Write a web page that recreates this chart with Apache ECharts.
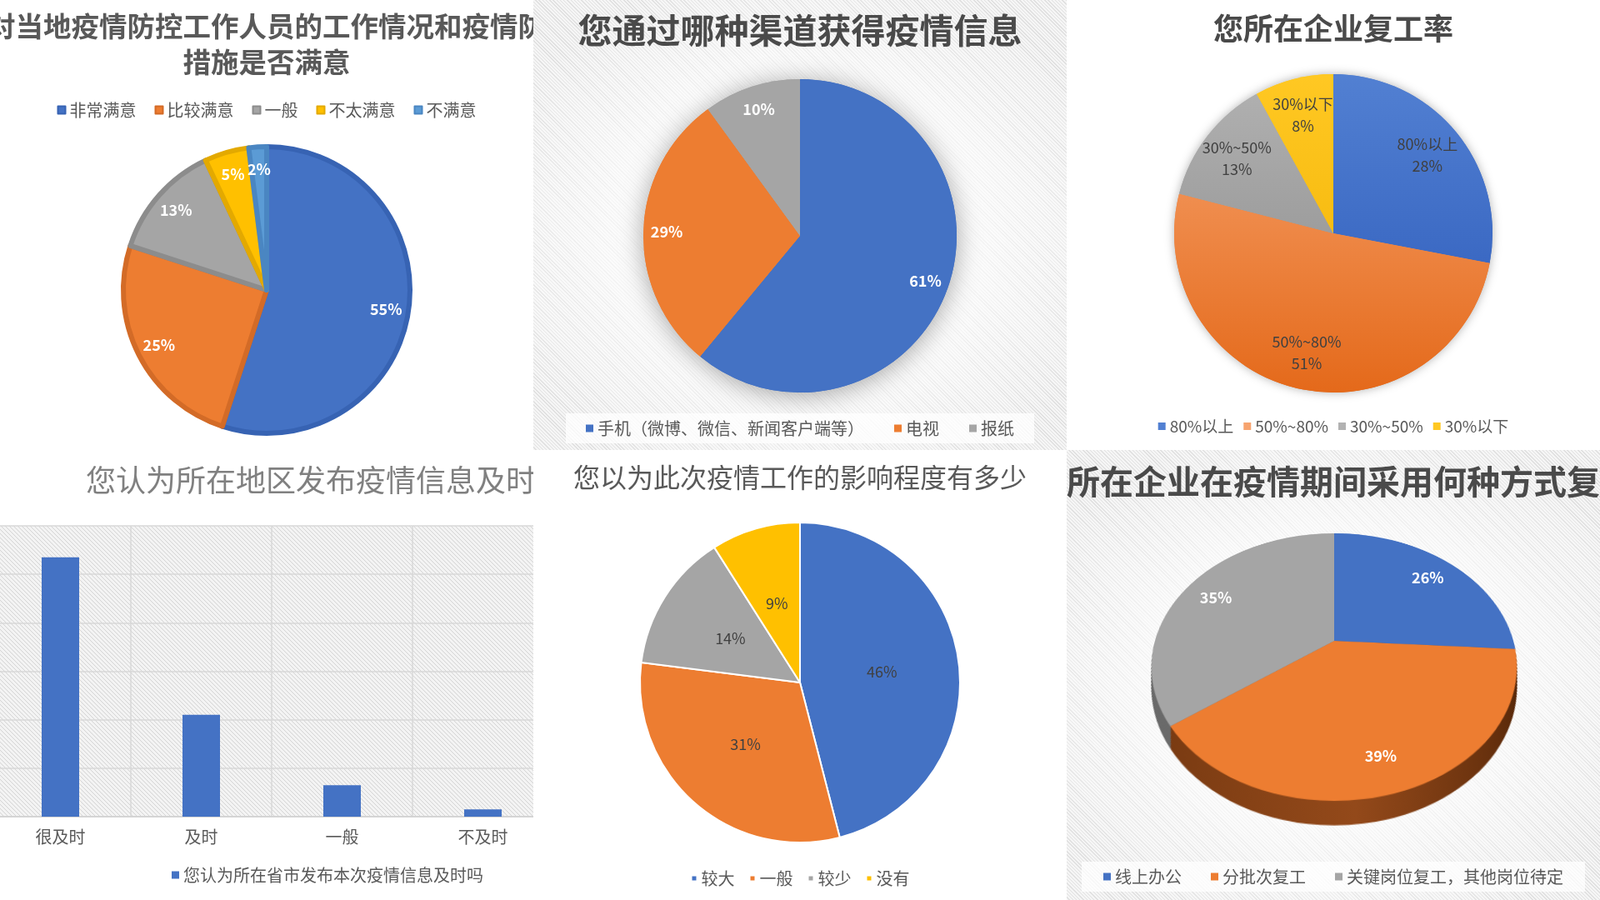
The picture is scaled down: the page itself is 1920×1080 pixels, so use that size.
<!DOCTYPE html>
<html>
<head>
<meta charset="utf-8">
<title>疫情调查统计</title>
<script src="https://cdn.jsdelivr.net/npm/echarts@6/dist/echarts.min.js"></script>
<style>
html,body{margin:0;padding:0;width:1920px;height:1080px;overflow:hidden;background:#fff;}
.panel{position:absolute;width:640px;height:540px;overflow:hidden;background:#fff;}
.chart{position:absolute;left:0;top:0;width:640px;height:540px;}
.hatch{background:
  radial-gradient(ellipse 62% 60% at 50% 52%, rgba(255,255,255,1) 0%, rgba(255,255,255,0.8) 45%, rgba(255,255,255,0) 100%),
  repeating-linear-gradient(45deg, #f5f5f5 0px, #f5f5f5 2px, #e0e0e0 2px, #e0e0e0 3px);}
#c6b{transform-origin:321px 229px;transform:perspective(763px) rotateX(44.1deg);}
#c6a{z-index:2;}
</style>
</head>
<body>
<div class="panel" style="left:0;top:0;"><div id="c1" class="chart"></div></div>
<div class="panel hatch" style="left:640px;top:0;"><div id="c2" class="chart"></div></div>
<div class="panel" style="left:1280px;top:0;"><div id="c3" class="chart"></div></div>
<div class="panel" style="left:0;top:540px;"><div id="c4" class="chart"></div></div>
<div class="panel" style="left:640px;top:540px;"><div id="c5" class="chart"></div></div>
<div class="panel hatch" style="left:1280px;top:540px;"><div id="c6b" class="chart"></div><div id="c6a" class="chart"></div></div>
<script>
// 数据
var satisfyNames = ['非常满意', '比较满意', '一般', '不太满意', '不满意'];
var satisfyValues = [55, 25, 13, 5, 2];

var channelNames = ['手机（微博、微信、新闻客户端等）', '电视', '报纸'];
var channelValues = [61, 29, 10];

var rateNames = ['80%以上', '50%~80%', '30%~50%', '30%以下'];
var rateValues = [28, 51, 13, 8];

var timelyNames = ['很及时', '及时', '一般', '不及时'];
var timelyValues = [107, 42, 13, 3];
var timelySeriesName = '您认为所在省市发布本次疫情信息及时吗';

var impactNames = ['较大', '一般', '较少', '没有'];
var impactValues = [46, 31, 14, 9];

var wayNames = ['线上办公', '分批次复工', '关键岗位复工，其他岗位待定'];
var wayValues = [26, 39, 35];

(function(){
	var FONT = '"Noto Sans CJK SC", "Noto Sans", sans-serif';
	var BLUE = '#4472C4', ORANGE = '#ED7D31', GRAY = '#A5A5A5', YELLOW = '#FFC000', LBLUE = '#5B9BD5';

	function pieData(names, values, styles){
		return names.map(function(n, i){
			var d = {name: n, value: values[i]};
			if(styles) d.itemStyle = styles[i];
			return d;
		});
	}
	function legendText(size){
		return {fontSize: size || 20, color: '#595959', fontFamily: FONT};
	}
	function titleStyle(size, weight, color){
		return {fontSize: size, fontWeight: weight, color: color, lineHeight: size + 4, fontFamily: FONT};
	}

	// 1. 满意度
	var c1 = echarts.init(document.getElementById('c1'));
	var c1Colors = [BLUE, ORANGE, GRAY, YELLOW, LBLUE];
	var c1Border = ['#3763b3', '#d36b27', '#8c8c8c', '#e3a900', '#4a86c2'];
	c1.setOption({
		animation: false,
		textStyle: {fontFamily: FONT},
		title: {
			text: '您对当地疫情防控工作人员的工作情况和疫情防控\n措施是否满意',
			left: 'center', top: 10, padding: 0,
			textStyle: {fontSize: 33.5, fontWeight: 'bold', color: '#595959', lineHeight: 43, fontFamily: FONT}
		},
		legend: {
			data: satisfyNames, top: 117, left: 'center', icon: 'rect',
			itemWidth: 9, itemHeight: 9, itemGap: 22, textStyle: legendText()
		},
		series: [{
			type: 'pie', center: [320, 348], radius: 172, startAngle: 90, silent: true,
			label: {show: false}, labelLine: {show: false},
			data: pieData(satisfyNames, satisfyValues, c1Colors.map(function(c, i){
				return {color: c, borderColor: c1Border[i], borderWidth: 6};
			}))
		}, {
			type: 'pie', center: [320, 348], radius: [112, 172], startAngle: 90, silent: true,
			avoidLabelOverlap: false,
			itemStyle: {color: 'rgba(0,0,0,0)', borderWidth: 0},
			label: {show: true, position: 'inside', formatter: '{c}%', color: '#fff', fontSize: 18, fontWeight: 'bold'},
			labelLine: {show: false},
			data: pieData(satisfyNames, satisfyValues)
		}]
	});

	// 2. 信息渠道
	var c2 = echarts.init(document.getElementById('c2'));
	var c2Colors = [BLUE, ORANGE, GRAY];
	c2.setOption({
		animation: false,
		textStyle: {fontFamily: FONT},
		title: {
			text: '您通过哪种渠道获得疫情信息', left: 'center', top: 14, padding: 0,
			textStyle: titleStyle(41, 'bold', '#4a4a4a')
		},
		legend: {
			data: channelNames, top: 496, left: 'center', icon: 'rect',
			padding: [8, 24], backgroundColor: 'rgba(255,255,255,0.75)',
			itemWidth: 9, itemHeight: 9, itemGap: 36, textStyle: legendText()
		},
		series: [{
			type: 'pie', center: [320, 283], radius: 188, startAngle: 90, silent: true,
			label: {show: false}, labelLine: {show: false},
			itemStyle: {shadowBlur: 30, shadowColor: 'rgba(0,0,0,0.35)', shadowOffsetY: 3},
			data: pieData(channelNames, channelValues, c2Colors.map(function(c){ return {color: c}; }))
		}, {
			type: 'pie', center: [320, 283], radius: 188, startAngle: 90, silent: true,
			label: {show: false}, labelLine: {show: false},
			data: pieData(channelNames, channelValues, c2Colors.map(function(c){ return {color: c}; }))
		}, {
			type: 'pie', center: [320, 283], radius: [126, 188], startAngle: 90, silent: true,
			avoidLabelOverlap: false,
			itemStyle: {color: 'rgba(0,0,0,0)', borderWidth: 0},
			label: {show: true, position: 'inside', formatter: '{c}%', color: '#fff', fontSize: 18, fontWeight: 'bold'},
			labelLine: {show: false},
			data: pieData(channelNames, channelValues)
		}]
	});

	// 3. 复工率
	var c3 = echarts.init(document.getElementById('c3'));
	var c3Grad = [['#5280d2', '#2b59b9'], ['#f7a46f', '#e4691a'], ['#b2b2b2', '#888888'], ['#ffc823', '#f0b000']];
	var c3Styles = c3Grad.map(function(g){
		return {color: new echarts.graphic.LinearGradient(0, 88, 0, 472, [{offset: 0, color: g[0]}, {offset: 1, color: g[1]}], true)};
	});
	c3.setOption({
		animation: false,
		textStyle: {fontFamily: FONT},
		title: {
			text: '您所在企业复工率', left: 'center', top: 14, padding: 0,
			textStyle: titleStyle(36, 'bold', '#4a4a4a')
		},
		legend: {
			data: rateNames, top: 497, left: 'center', icon: 'rect',
			itemWidth: 9, itemHeight: 9, itemGap: 12, textStyle: legendText(19)
		},
		series: [{
			type: 'pie', center: [320, 280], radius: 191, startAngle: 90, silent: true,
			label: {show: false}, labelLine: {show: false},
			itemStyle: {shadowBlur: 12, shadowColor: 'rgba(0,0,0,0.3)'},
			data: pieData(rateNames, rateValues, c3Styles)
		}, {
			type: 'pie', center: [320, 280], radius: 191, startAngle: 90, silent: true,
			label: {show: false}, labelLine: {show: false},
			data: pieData(rateNames, rateValues, c3Styles)
		}, {
			type: 'pie', center: [320, 280], radius: [96, 191], startAngle: 90, silent: true,
			avoidLabelOverlap: false,
			itemStyle: {color: 'rgba(0,0,0,0)', borderWidth: 0},
			label: {show: true, position: 'inside', formatter: '{b}\n{c}%', color: '#404040', fontSize: 18, lineHeight: 26},
			labelLine: {show: false},
			data: pieData(rateNames, rateValues)
		}]
	});

	// 4. 发布及时性 柱状图
	var pat = document.createElement('canvas');
	pat.width = 5; pat.height = 5;
	var ctx = pat.getContext('2d');
	ctx.fillStyle = '#f3f3f3';
	ctx.fillRect(0, 0, 5, 5);
	ctx.strokeStyle = '#d4d4d4';
	ctx.lineWidth = 1;
	ctx.beginPath();
	ctx.moveTo(-1, -1); ctx.lineTo(6, 6);
	ctx.moveTo(-1, 4); ctx.lineTo(1, 6);
	ctx.moveTo(4, -1); ctx.lineTo(6, 1);
	ctx.stroke();

	var c4 = echarts.init(document.getElementById('c4'));
	c4.setOption({
		animation: false,
		textStyle: {fontFamily: FONT},
		title: {
			text: '您认为所在地区发布疫情信息及时吗', left: 103, top: 16, padding: 0,
			textStyle: titleStyle(36, 'normal', '#808080')
		},
		legend: {
			data: [timelySeriesName], top: 495, left: 201, icon: 'rect',
			itemWidth: 9, itemHeight: 9, textStyle: legendText()
		},
		grid: {
			left: -12, top: 91, width: 676, height: 349, containLabel: false, outerBoundsMode: 'none',
			show: true, borderWidth: 0, backgroundColor: {image: pat, repeat: 'repeat'}
		},
		xAxis: {
			type: 'category', data: timelyNames,
			axisTick: {show: false},
			axisLine: {lineStyle: {color: '#d0d0d0', width: 1.5}},
			axisLabel: {color: '#595959', fontSize: 20, margin: 14, interval: 0},
			splitLine: {show: true, interval: 0, lineStyle: {color: '#d9d9d9', width: 1.5}}
		},
		yAxis: {
			type: 'value', min: 0, max: 120, interval: 20,
			axisLabel: {show: false}, axisLine: {show: false}, axisTick: {show: false},
			splitLine: {lineStyle: {color: '#d9d9d9', width: 1.5}}
		},
		series: [{
			name: timelySeriesName, type: 'bar', data: timelyValues, barWidth: 45,
			itemStyle: {color: BLUE}
		}]
	});

	// 5. 影响程度
	var c5 = echarts.init(document.getElementById('c5'));
	var c5Colors = [BLUE, ORANGE, GRAY, YELLOW];
	c5.setOption({
		animation: false,
		textStyle: {fontFamily: FONT},
		title: {
			text: '您以为此次疫情工作的影响程度有多少', left: 'center', top: 15, padding: 0,
			textStyle: titleStyle(32, 'normal', '#595959')
		},
		legend: {
			data: impactNames, top: 499, left: 'center', icon: 'rect',
			itemWidth: 7, itemHeight: 7, itemGap: 17, textStyle: legendText()
		},
		series: [{
			type: 'pie', center: [320, 279], radius: 192, startAngle: 90, silent: true,
			avoidLabelOverlap: false,
			label: {show: true, position: 'inside', formatter: '{c}%', color: '#404040', fontSize: 18},
			labelLine: {show: false},
			data: pieData(impactNames, impactValues, c5Colors.map(function(c){
				return {color: c, borderColor: '#fff', borderWidth: 2};
			}))
		}]
	});

	// 6. 复工方式 (三维饼图)
	var CX = 321, CY = 229, R = 215;
	var TILT = 44.1 * Math.PI / 180, PERSP = 763;
	var COS = Math.cos(TILT), SIN = Math.sin(TILT);
	var c6Colors = [BLUE, ORANGE, GRAY];
	var c6Side = [
		{color: '#2f528f'},
		{color: new echarts.graphic.LinearGradient(0, 0, 1, 0, [
			{offset: 0, color: '#7a3b12'}, {offset: 0.5, color: '#93491a'},
			{offset: 0.85, color: '#6a320e'}, {offset: 1, color: '#552709'}])},
		{color: '#6a6a6a'}
	];

	var c6b = echarts.init(document.getElementById('c6b'));
	var sideSeries = [];
	for(var d = 32; d >= 2; d -= 2){
		// 越靠近观察者放大越多，半径略缩以保持边缘竖直
		sideSeries.push({
			type: 'pie', center: [CX, CY + d], radius: R * (PERSP - d * SIN) / PERSP, startAngle: 90, silent: true,
			label: {show: false}, labelLine: {show: false},
			data: pieData(wayNames, wayValues, c6Side)
		});
	}
	sideSeries.push({
		type: 'pie', center: [CX, CY], radius: R, startAngle: 90, silent: true,
		label: {show: false}, labelLine: {show: false},
		data: pieData(wayNames, wayValues, c6Colors.map(function(c){ return {color: c}; }))
	});
	c6b.setOption({animation: false, series: sideSeries});

	var c6a = echarts.init(document.getElementById('c6a'));
	c6a.setOption({
		animation: false,
		textStyle: {fontFamily: FONT},
		title: {
			text: '您所在企业在疫情期间采用何种方式复工', left: 'center', top: 16, padding: 0,
			textStyle: titleStyle(40, 'bold', '#4a4a4a')
		},
		legend: {
			data: wayNames.map(function(n, i){ return {name: n, itemStyle: {color: c6Colors[i], opacity: 1}}; }),
			top: 494, left: 'center', icon: 'rect',
			padding: [8, 26], backgroundColor: 'rgba(255,255,255,0.75)',
			itemWidth: 9, itemHeight: 9, itemGap: 35, textStyle: legendText()
		},
		series: [{
			type: 'pie', center: [CX, CY], radius: [120, R], startAngle: 90, silent: true,
			avoidLabelOverlap: false,
			itemStyle: {color: 'rgba(0,0,0,0)', borderWidth: 0},
			label: {show: true, position: 'inside', formatter: '{c}%', color: '#fff', fontSize: 18, fontWeight: 'bold'},
			labelLine: {show: false},
			// 把平面上的标签投影到倾斜的饼面上
			labelLayout: function(params){
				var r = params.labelRect;
				var x = r.x + r.width / 2 - CX;
				var y = r.y + r.height / 2 - CY;
				var k = PERSP / (PERSP - y * SIN);
				return {dx: x * k - x, dy: y * COS * k - y};
			},
			data: pieData(wayNames, wayValues)
		}]
	});
})();
</script>
</body>
</html>
